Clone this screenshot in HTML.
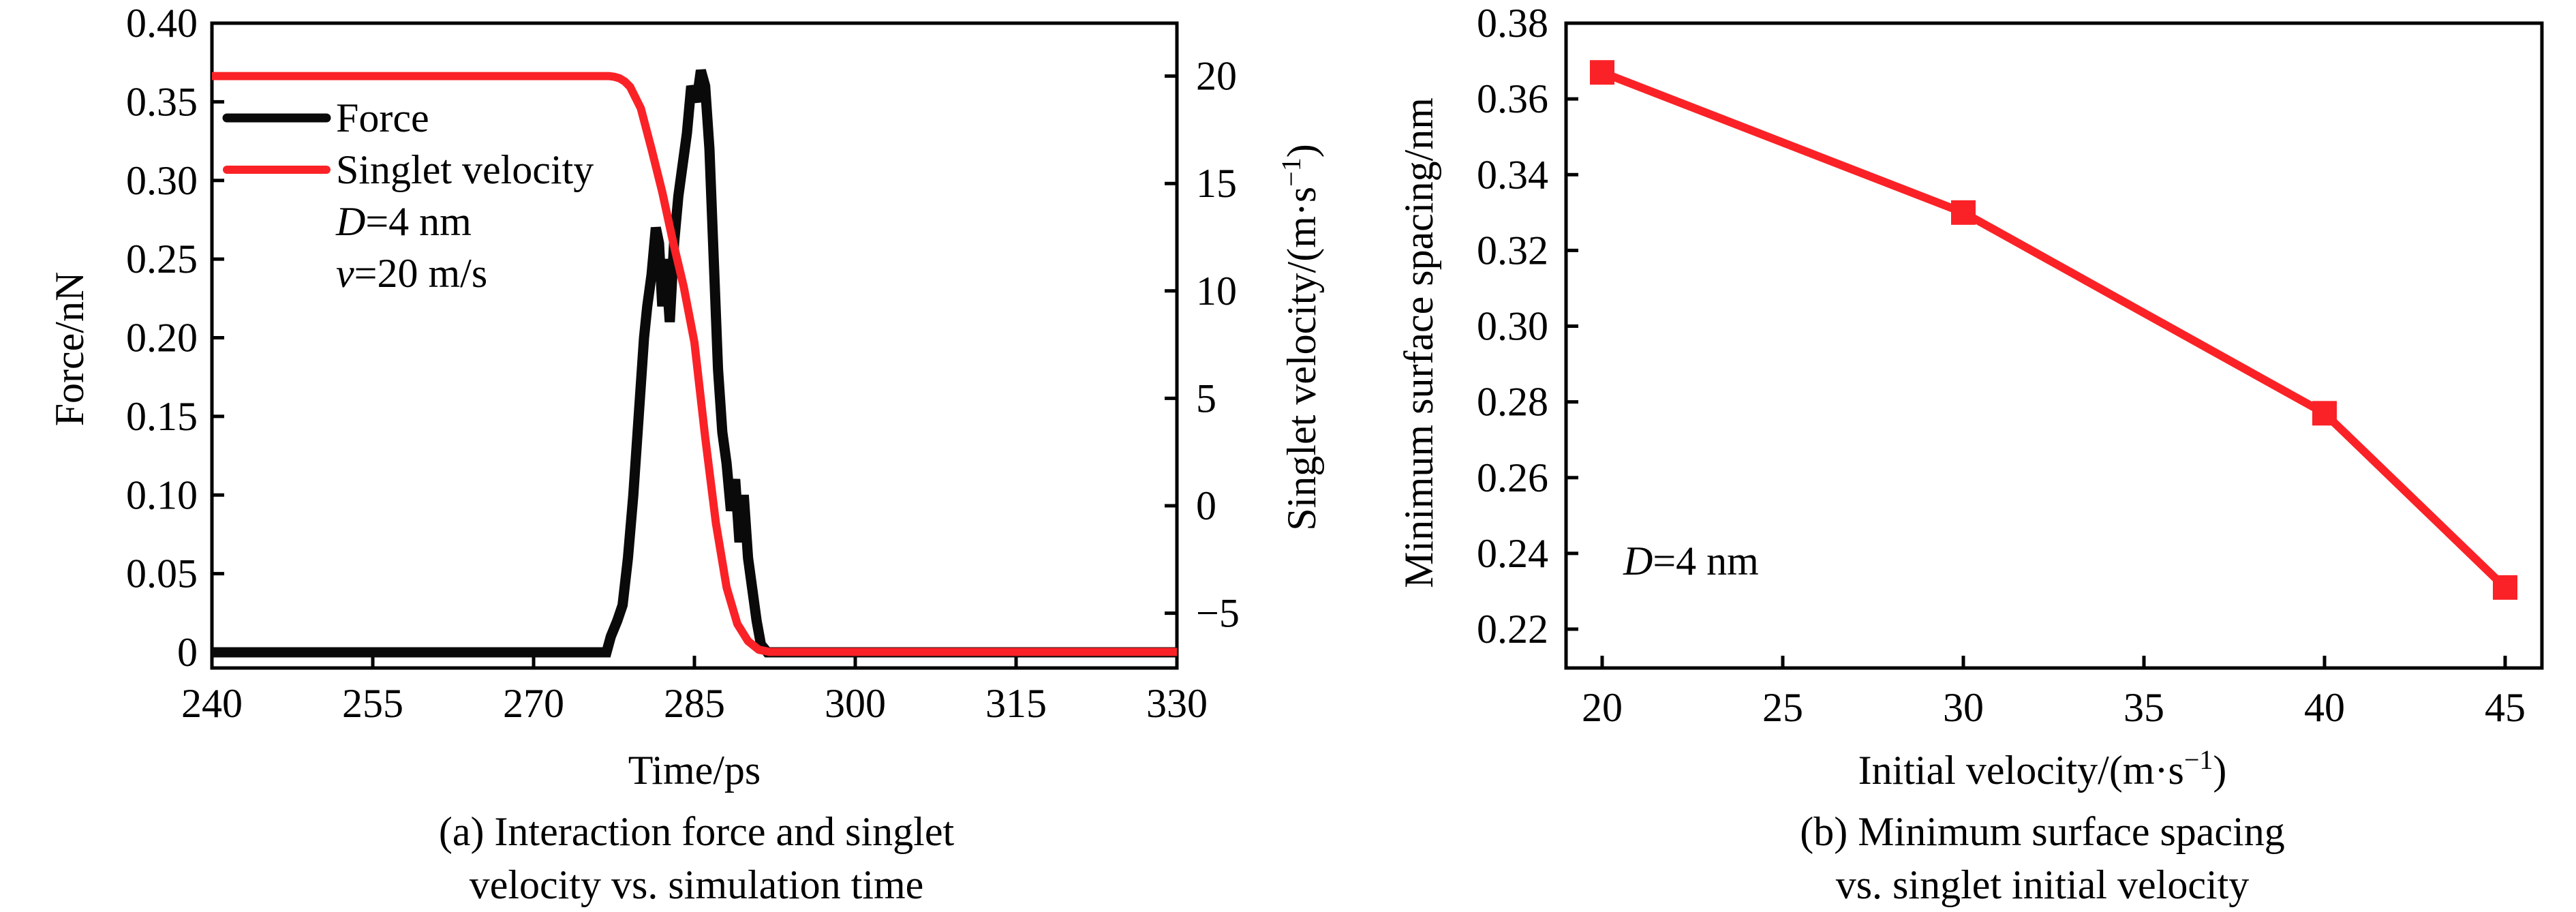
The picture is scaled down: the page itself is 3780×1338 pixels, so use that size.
<!DOCTYPE html>
<html><head><meta charset="utf-8"><style>
html,body{margin:0;padding:0;background:#fff;width:3780px;height:1338px;overflow:hidden}
svg{display:block;font-family:"Liberation Serif",serif}
</style></head><body>
<svg id="fig" width="3780" height="1338" viewBox="0 0 3780 1338">
<g id="chartA"></g>
<g id="chartB"></g>
</svg>
<script>
const timeVals=[240,276.8,277.2,277.8,278.3,278.8,279.3,279.8,280.3,280.6,281,281.4,281.7,282,282.3,282.7,283.1,283.5,283.9,284.3,284.7,285.2,285.6,286,286.4,286.8,287.2,287.6,288,288.4,288.8,289.2,289.6,290,290.4,290.8,291.2,291.8,330];
const forceVals=[0,0,0.01,0.02,0.03,0.06,0.1,0.15,0.2,0.22,0.24,0.27,0.26,0.22,0.25,0.21,0.26,0.29,0.31,0.33,0.36,0.35,0.37,0.36,0.32,0.25,0.18,0.14,0.12,0.09,0.11,0.07,0.1,0.06,0.04,0.02,0.005,0,0];
const velTime=[240,277,277.5,278,278.5,279,280,281,282,283,284,285,286,287,288,289,290,291,292,330];
const velVals=[20,20,19.97,19.9,19.75,19.5,18.5,16.6,14.6,12.3,10.2,7.6,3.2,-0.8,-3.8,-5.5,-6.3,-6.7,-6.8,-6.8];
const xTicksA=[240,255,270,285,300,315,330];
const yTicksA=[0,0.05,0.1,0.15,0.2,0.25,0.3,0.35,0.4];
const yTickLabelsA=["0","0.05","0.10","0.15","0.20","0.25","0.30","0.35","0.40"];
const y2TicksA=[-5,0,5,10,15,20];
const y2TickLabelsA=["\u22125","0","5","10","15","20"];
const velB=[20,30,40,45];
const spacingB=[0.367,0.330,0.277,0.231];
const xTicksB=[20,25,30,35,40,45];
const yTicksB=[0.22,0.24,0.26,0.28,0.30,0.32,0.34,0.36,0.38];

const NS="http://www.w3.org/2000/svg";
function mk(parent,tag,attrs,text){const e=document.createElementNS(NS,tag);for(const k in attrs)e.setAttribute(k,attrs[k]);if(text!==undefined)e.textContent=text;parent.appendChild(e);return e;}

// Chart A
const A=document.getElementById('chartA');
const ax=t=>311+(t-240)/90*1416;
const ay=f=>957-f/0.4*923;
const ay2=v=>742-v/5*157.6;
let e=mk(A,'rect',{x:311,y:34,width:1416,height:946,fill:'none',stroke:'#000','stroke-width':5});

xTicksA.forEach(t=>{
 e=mk(A,'line',{x1:ax(t),x2:ax(t),y1:980,y2:962,stroke:'#000','stroke-width':5});
 
 e=mk(A,'text',{x:ax(t),y:1052,'font-size':60,'text-anchor':'middle'},String(t));
 
});
yTicksA.forEach((v,i)=>{
 e=mk(A,'line',{x1:311,x2:329,y1:ay(v),y2:ay(v),stroke:'#000','stroke-width':5});
 
 e=mk(A,'text',{x:290,y:ay(v)+20,'font-size':60,'text-anchor':'end'},yTickLabelsA[i]);
 
});
y2TicksA.forEach((v,i)=>{
 e=mk(A,'line',{x1:1727,x2:1709,y1:ay2(v),y2:ay2(v),stroke:'#000','stroke-width':5});
 
 e=mk(A,'text',{x:1755,y:ay2(v)+20,'font-size':60,'text-anchor':'start'},y2TickLabelsA[i]);
 
});
e=mk(A,'polyline',{points:timeVals.map((t,i)=>ax(t)+','+ay(forceVals[i])).join(' '),fill:'none',stroke:'#0a0a0a','stroke-width':15,'stroke-linejoin':'miter'});

e=mk(A,'polyline',{points:velTime.map((t,i)=>ax(t)+','+ay2(velVals[i])).join(' '),fill:'none',stroke:'#fa2226','stroke-width':12,'stroke-linejoin':'round'});

// legend
e=mk(A,'line',{x1:333,x2:479,y1:173,y2:173,stroke:'#0a0a0a','stroke-width':13,'stroke-linecap':'round'});

e=mk(A,'text',{x:493,y:193,'font-size':60},'Force');

e=mk(A,'line',{x1:333,x2:479,y1:249,y2:249,stroke:'#fa2226','stroke-width':12,'stroke-linecap':'round'});

e=mk(A,'text',{x:493,y:269,'font-size':60},'Singlet velocity');

e=mk(A,'text',{x:493,y:345,'font-size':60});
e.innerHTML='<tspan font-style="italic">D</tspan>=4 nm';

e=mk(A,'text',{x:493,y:421,'font-size':60});
e.innerHTML='<tspan font-style="italic">v</tspan>=20 m/s';

e=mk(A,'text',{x:0,y:0,'font-size':60,'text-anchor':'middle',transform:'translate(122,512) rotate(-90)'},'Force/nN');

e=mk(A,'text',{x:0,y:0,'font-size':60,'text-anchor':'middle',transform:'translate(1930,495) rotate(-90)'});
e.innerHTML='Singlet velocity/(m·s<tspan font-size="40" dy="-22">−1</tspan><tspan dy="22">)</tspan>';

e=mk(A,'text',{x:1019,y:1150,'font-size':60,'text-anchor':'middle'},'Time/ps');

e=mk(A,'text',{x:1022,y:1240,'font-size':60,'text-anchor':'middle'},'(a) Interaction force and singlet');

e=mk(A,'text',{x:1022,y:1318,'font-size':60,'text-anchor':'middle'},'velocity vs. simulation time');


// Chart B
const B=document.getElementById('chartB');
const bx=v=>2351+(v-20)/25*1325;
const by=s=>34+(0.38-s)/0.16*889;
e=mk(B,'rect',{x:2298,y:34,width:1432,height:946,fill:'none',stroke:'#000','stroke-width':5});

xTicksB.forEach(t=>{
 e=mk(B,'line',{x1:bx(t),x2:bx(t),y1:980,y2:962,stroke:'#000','stroke-width':5});
 
 e=mk(B,'text',{x:bx(t),y:1058,'font-size':60,'text-anchor':'middle'},String(t));
 
});
yTicksB.forEach(v=>{
 e=mk(B,'line',{x1:2298,x2:2316,y1:by(v),y2:by(v),stroke:'#000','stroke-width':5});
 
 e=mk(B,'text',{x:2272,y:by(v)+20,'font-size':60,'text-anchor':'end'},v.toFixed(2));
 
});
e=mk(B,'polyline',{points:velB.map((v,i)=>bx(v)+','+by(spacingB[i])).join(' '),fill:'none',stroke:'#fa2226','stroke-width':12});

velB.forEach((v,i)=>{
 e=mk(B,'rect',{x:bx(v)-18,y:by(spacingB[i])-18,width:36,height:36,fill:'#fa2226'});
 
});
e=mk(B,'text',{x:2382,y:843,'font-size':60});
e.innerHTML='<tspan font-style="italic">D</tspan>=4 nm';

e=mk(B,'text',{x:0,y:0,'font-size':60,'text-anchor':'middle',transform:'translate(2102,503) rotate(-90)'},'Minimum surface spacing/nm');

e=mk(B,'text',{x:2997,y:1150,'font-size':60,'text-anchor':'middle'});
e.innerHTML='Initial velocity/(m·s<tspan font-size="40" dy="-22">−1</tspan><tspan dy="22">)</tspan>';

e=mk(B,'text',{x:2997,y:1240,'font-size':60,'text-anchor':'middle'},'(b) Minimum surface spacing');

e=mk(B,'text',{x:2997,y:1318,'font-size':60,'text-anchor':'middle'},'vs. singlet initial velocity');

</script>
</body></html>
